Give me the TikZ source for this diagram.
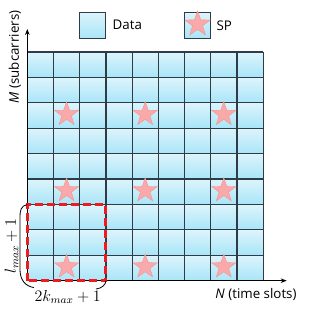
\documentclass[tikz,border=0pt]{standalone}
\usepackage{fontspec}
\setmainfont{Open Sans}
\usetikzlibrary{arrows.meta,shapes.geometric,positioning}
\definecolor{celltop}{HTML}{DDF4FC}
\definecolor{cellbottom}{HTML}{A8E5F8}
\definecolor{gridgrey}{HTML}{2E3D45}
\definecolor{pilotpink}{HTML}{F9A9A9}
\definecolor{regionred}{HTML}{EE1C1C}

\begin{document}
\begin{tikzpicture}[x=19.65pt,y=19.05pt,
  every node/.style={font=\fontsize{10}{12}\selectfont},
  cell/.style={top color=celltop,bottom color=cellbottom,draw=none},
  gridline/.style={draw=gridgrey,line width=0.9pt},
  pilot/.style={star,star points=5,star point ratio=2.5,minimum size=19pt,
    inner sep=0pt,fill=pilotpink,draw=pilotpink!85!red,line width=0.3pt},
  legendbox/.style={rectangle,minimum width=19.65pt,minimum height=19.5pt,
    inner sep=0pt,top color=celltop,bottom color=cellbottom,draw=gridgrey,
    line width=0.9pt},
  axis/.style={black,line width=0.75pt,-{Stealth[length=4.5pt,width=3.5pt]}},
  region/.style={draw=regionred,line width=2.2pt,dash pattern=on 6pt off 3pt},
  brace/.style={black,line width=0.6pt},
  sizelabel/.style={font=\fontsize{11.5}{13}\selectfont}]
  \useasboundingbox (-1.042,-1.193) rectangle (10.752,11.051);

  % 9 x 9 resource grid, one shaded cell per (time slot, subcarrier)
  \foreach \i in {0,...,8}
  {
    \foreach \j in {0,...,8}
    {
      \shade[cell] (\i,\j) rectangle ++(1,1);
    }
  }
  \foreach \k in {0,...,9}
  {
    \draw[gridline] (\k,0) -- (\k,9);
    \draw[gridline] (0,\k) -- (9,\k);
  }

  % superimposed pilots, every third slot and subcarrier
  \foreach \i in {1,4,7}
  {
    \foreach \j in {0,3,6}
    {
      \node[pilot] (sp-\i-\j) at ({\i+0.5},{\j+0.55}) {};
    }
  }

  % legend
  \node[legendbox] (datakey) at (2.48,10.055) {};
  \node[right=1.5pt of datakey] (datalabel) {Data};
  \node[legendbox] (spkey) at (6.5,10.055) {};
  \node[pilot,minimum size=20pt] (spstar) at (6.5,10.1) {};
  \node[right=0.5pt of spkey] (splabel) {SP};

  % axes
  \coordinate (origin) at (0,0);
  \coordinate (mtip) at (0,9.91);
  \coordinate (ntip) at (9.9,0);
  \draw[axis] (origin) -- (mtip);
  \draw[axis] (origin) -- (ntip);
  \node[rotate=90] (mlabel) at (-0.47,8.81) {\textit{M} (subcarriers)};
  \node (nlabel) at (8.73,-0.56) {\textit{N} (time slots)};

  % spread region of the channel
  \draw[region] (0,0) rectangle (3,3);
  \draw[brace] (0,3) .. controls (-0.25,2.95) and (-0.28,2.75) .. (-0.28,2.5)
    -- (-0.28,0.45) .. controls (-0.28,0) and (-0.05,-0.22) .. (0.25,-0.27);
  \draw[brace] (2.62,-0.33) .. controls (2.85,-0.3) and (3.0,-0.15) .. (3.0,0);
  \node[sizelabel,rotate=90] (llabel) at (-0.6,1.37) {$l_{max}+1$};
  \node[sizelabel] (klabel) at (1.54,-0.63) {$2k_{max}+1$};
\end{tikzpicture}
\end{document}
